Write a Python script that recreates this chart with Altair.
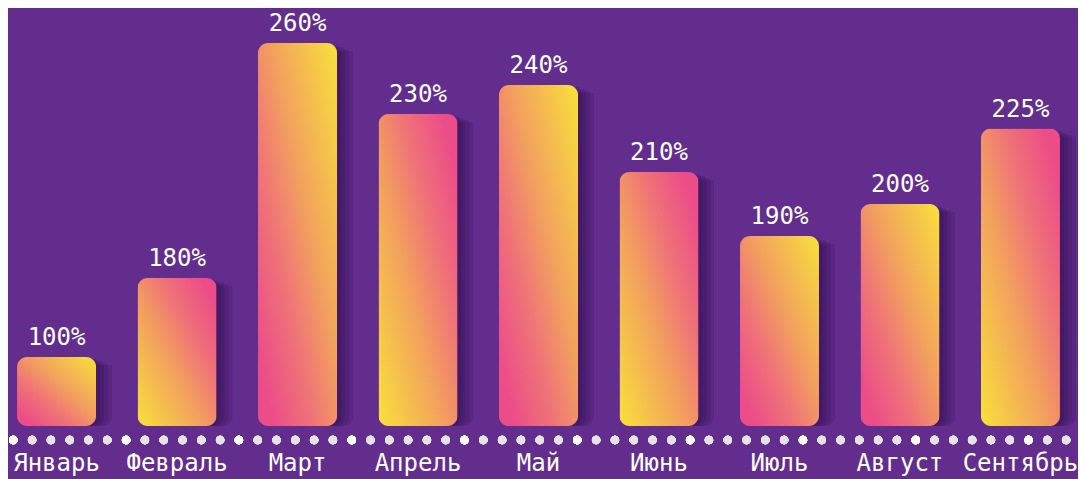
import altair as alt
import pandas as pd

months = ["Январь", "Февраль", "Март", "Апрель", "Май", "Июнь", "Июль", "Август", "Сентябрь"]
values = [100, 180, 260, 230, 240, 210, 190, 200, 225]
pct_labels = ["100%", "180%", "260%", "230%", "240%", "210%", "190%", "200%", "225%"]
gradient_style = ["A", "B", "A", "B", "A", "B", "A", "A", "B"]

df = pd.DataFrame({"month": months, "value": values, "label": pct_labels, "style": gradient_style})

BG = "#632D8E"
FONT = "DejaVu Sans Mono"

stops = [
    alt.GradientStop(color="#F8E13A", offset=0),
    alt.GradientStop(color="#F3A05E", offset=0.42),
    alt.GradientStop(color="#EF7377", offset=0.65),
    alt.GradientStop(color="#EC4D88", offset=0.9),
    alt.GradientStop(color="#EC4D88", offset=1),
]
grad_a = alt.LinearGradient(gradient="linear", x1=1, y1=0, x2=0, y2=1, stops=stops)
grad_b = alt.LinearGradient(gradient="linear", x1=0, y1=1, x2=1, y2=0, stops=stops)

x_enc = alt.X("month:N", sort=months, axis=None,
              scale=alt.Scale(paddingInner=0.344, paddingOuter=0.075))
y_enc = alt.Y("value:Q", axis=None,
              scale=alt.Scale(domain=[0, 100, 180, 190, 210, 240, 260],
                              range=[418, 349, 270, 228, 164, 77, 35]))

base = alt.Chart(df).encode(x=x_enc, y=y_enc)

shadows = [
    base.mark_bar(cornerRadius=10, color="#2a0c47", opacity=0.17, xOffset=o, yOffset=o * 0.5)
    for o in (4, 8, 12, 16)
]

bars_a = base.transform_filter(alt.datum.style == "A").mark_bar(cornerRadius=10, color=grad_a)
bars_b = base.transform_filter(alt.datum.style == "B").mark_bar(cornerRadius=10, color=grad_b)

pct = base.mark_text(dy=-12, baseline="alphabetic", font=FONT, fontSize=24, color="white").encode(
    text="label:N")

month_txt = alt.Chart(df).mark_text(baseline="alphabetic", font=FONT, fontSize=24, color="white").encode(
    x=x_enc, y=alt.value(463), text="month:N")

dots_grey = alt.Chart(df).mark_rule(
    color="#e4e4e4", strokeWidth=8.5, strokeCap="round", strokeDash=[0.001, 18.8]
).encode(x=alt.value(5.3), x2=alt.value(1078), y=alt.value(432))
dots_white = alt.Chart(df).mark_rule(
    color="#ffffff", strokeWidth=8.5, strokeCap="round", strokeDash=[0.001, 112.8]
).encode(x=alt.value(5.3), x2=alt.value(1078), y=alt.value(432))

chart = alt.layer(*shadows, bars_a, bars_b, pct, month_txt, dots_grey, dots_white).properties(
    width=1061, height=471,
    autosize=alt.AutoSizeParams(type="none"),
    padding={"left": 0, "top": 0, "right": 9, "bottom": 0},
    background=BG,
).configure_view(stroke=None)

chart.save("out.html", embed_options={"renderer": "svg", "actions": False})
